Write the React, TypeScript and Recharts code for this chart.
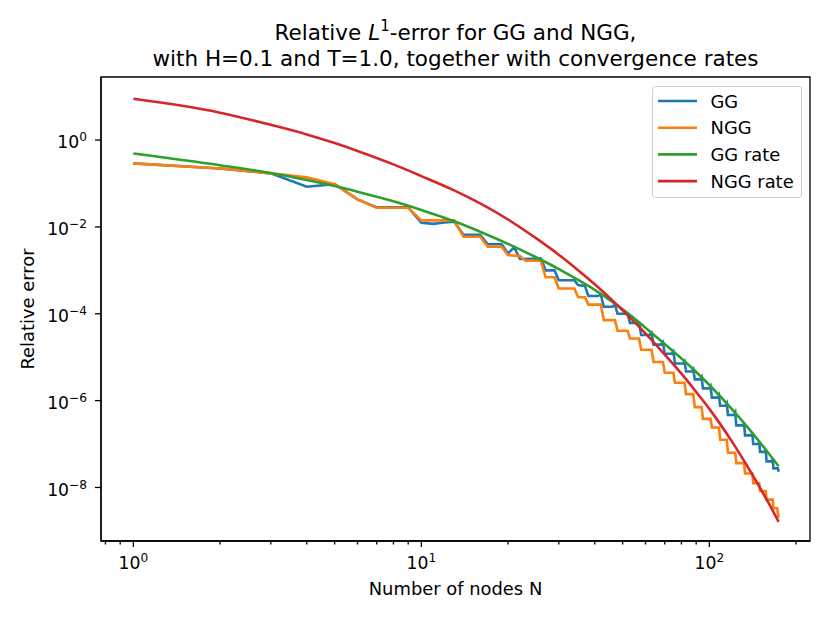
import { LineChart, Line, XAxis, YAxis, Legend, ReferenceArea } from "recharts"

const FONT = "DejaVu Sans"

// GG error: number of nodes N and relative L1-error (corners of the staircase)
const ggN = [
  1, 2, 3, 4, 5, 6, 7, 9, 10, 11, 12, 13, 14, 16, 17, 19, 20, 21, 22, 26, 27, 29, 30, 34, 35, 37,
  38, 41, 42, 43, 46, 47, 48, 52, 53, 57, 58, 62, 63, 64, 68, 69, 70, 74, 75, 76, 81, 82, 83, 87,
  88, 89, 93, 94, 95, 100, 101, 102, 107, 108, 109, 114, 115, 116, 122, 123, 124, 131, 132, 133,
  140, 141, 142, 148, 149, 150, 156, 157, 158, 165, 166, 167, 173, 174,
]
const ggErr = [
  0.29, 0.222, 0.171, 0.0839, 0.0968, 0.043, 0.0281, 0.0281, 0.01245, 0.01175, 0.0126, 0.0132,
  6.61e-3, 6.61e-3, 3.98e-3, 3.98e-3, 2.45e-3, 3.39e-3, 1.82e-3, 1.86e-3, 1.0e-3, 1.0e-3,
  5.89e-4, 5.89e-4, 4.57e-4, 4.37e-4, 2.57e-4, 2.57e-4, 2.75e-4, 1.45e-4, 1.45e-4, 1.62e-4,
  1.0e-4, 1.0e-4, 6.17e-5, 6.17e-5, 3.24e-5, 3.24e-5, 3.63e-5, 1.95e-5, 1.95e-5, 2.19e-5,
  1.2e-5, 1.2e-5, 1.35e-5, 7.16e-6, 7.16e-6, 8.04e-6, 4.68e-6, 4.68e-6, 5.25e-6, 3.09e-6,
  3.09e-6, 3.47e-6, 1.91e-6, 1.91e-6, 2.14e-6, 1.17e-6, 1.17e-6, 1.32e-6, 7.59e-7, 7.59e-7,
  8.51e-7, 4.68e-7, 4.68e-7, 5.25e-7, 2.69e-7, 2.69e-7, 3.02e-7, 1.58e-7, 1.58e-7, 1.78e-7,
  1.0e-7, 1.0e-7, 1.12e-7, 6.61e-8, 6.61e-8, 7.41e-8, 3.98e-8, 3.98e-8, 4.47e-8, 2.75e-8,
  2.75e-8, 2.29e-8,
]

// NGG error
const nggN = [
  1, 2, 3, 4, 5, 6, 7, 9, 10, 13, 14, 16, 17, 19, 20, 22, 23, 26, 27, 29, 30, 34, 35, 37, 38, 42,
  43, 47, 48, 52, 53, 57, 58, 63, 64, 69, 70, 75, 76, 82, 83, 88, 89, 94, 95, 101, 102, 108, 109,
  115, 116, 123, 124, 132, 133, 141, 142, 149, 150, 157, 158, 166, 167, 172, 174,
]
const nggErr = [
  0.29, 0.222, 0.171, 0.138, 0.0968, 0.043, 0.0275, 0.0275, 0.0141, 0.0141, 5.93e-3, 5.93e-3,
  3.48e-3, 3.48e-3, 2.24e-3, 2.14e-3, 1.66e-3, 1.66e-3, 6.92e-4, 6.92e-4, 3.83e-4, 3.83e-4,
  2.4e-4, 2.4e-4, 1.62e-4, 1.62e-4, 7.13e-5, 7.13e-5, 4.07e-5, 4.07e-5, 2.69e-5, 2.69e-5,
  1.48e-5, 1.48e-5, 7.76e-6, 7.76e-6, 4.37e-6, 4.37e-6, 2.57e-6, 2.57e-6, 1.41e-6, 1.41e-6,
  7.08e-7, 7.08e-7, 3.8e-7, 3.8e-7, 2.4e-7, 2.4e-7, 1.26e-7, 1.26e-7, 6.31e-8, 6.31e-8,
  3.63e-8, 3.63e-8, 2.09e-8, 2.09e-8, 1.26e-8, 1.26e-8, 8.32e-9, 8.32e-9, 5.25e-9, 5.25e-9,
  3.31e-9, 3.31e-9, 2.0e-9,
]

// convergence rates
const rateN = [1, 2, 3, 4, 5, 6, 8, 10, 13, 16, 20, 25, 30, 35, 40, 50, 60, 70, 80, 90, 100, 120, 140, 160, 174]
const ggRate = [
  0.49, 0.263, 0.174, 0.12, 0.0871, 0.0646, 0.0389, 0.0245, 0.0135, 7.76e-3, 4.07e-3, 2.0e-3,
  1.07e-3, 6.03e-4, 3.55e-4, 1.26e-4, 4.79e-5, 2.0e-5, 9.33e-6, 4.57e-6, 2.29e-6, 6.31e-7,
  1.91e-7, 6.31e-8, 3.09e-8,
]
const nggRate = [
  8.91, 4.27, 2.24, 1.35, 0.851, 0.562, 0.275, 0.148, 0.0692, 0.0347, 0.0148, 5.5e-3, 2.29e-3,
  1.01e-3, 4.79e-4, 1.2e-4, 3.55e-5, 1.15e-5, 4.17e-6, 1.58e-6, 6.46e-7, 1.12e-7, 2.14e-8,
  4.57e-9, 1.62e-9,
]

const xMajor = [1, 10, 100]
const xTicks = [0.8, 0.9, 1, 2, 3, 4, 5, 6, 7, 8, 9, 10, 20, 30, 40, 50, 60, 70, 80, 90, 100, 200]
const yTicks = [1e-8, 1e-6, 1e-4, 1e-2, 1]

const xDomain = [0.772, 223.6]
const yDomain = [5.85e-10, 28.3]

const toPoints = (ns: number[], vs: number[]) => ns.map((n, i) => ({ n, v: vs[i] }))

const series = [
  { name: "GG", color: "#1f77b4", data: toPoints(ggN, ggErr), curve: "linear" },
  { name: "NGG", color: "#ff7f0e", data: toPoints(nggN, nggErr), curve: "linear" },
  { name: "GG rate", color: "#2ca02c", data: toPoints(rateN, ggRate), curve: "monotone" },
  { name: "NGG rate", color: "#d62728", data: toPoints(rateN, nggRate), curve: "monotone" },
]

const expLabel = (v: number) => {
  const e = Math.round(Math.log10(v))
  return e < 0 ? "\u2212" + Math.abs(e) : String(e)
}

function XTick(props: any) {
  const { x, y, payload } = props
  const major = xMajor.includes(payload.value)
  return (
    <g>
      <line x1={x} x2={x} y1={y} y2={y + (major ? 6 : 3.5)} stroke="#000" strokeWidth={1.3} />
      {major && (
        <text x={x} y={y + 28} textAnchor="middle" fontSize={17.2} fontFamily={FONT} fill="#000">
          10<tspan dy={-7} fontSize={12.2}>{expLabel(payload.value)}</tspan>
        </text>
      )}
    </g>
  )
}

function YTick(props: any) {
  const { x, y, payload } = props
  return (
    <g>
      <line x1={x - 6} x2={x} y1={y} y2={y} stroke="#000" strokeWidth={1.3} />
      <text x={x - 14} y={y + 8.3} textAnchor="end" fontSize={17.2} fontFamily={FONT} fill="#000">
        10<tspan dy={-7} fontSize={12.2}>{expLabel(payload.value)}</tspan>
      </text>
    </g>
  )
}

const renderLegend = () => (
  <svg width={151} height={113} style={{ display: "block" }}>
    <rect x={0.5} y={0.5} width={149} height={111} rx={3} fill="#fff" fillOpacity={0.8} stroke="#cccccc" />
    {series.map((s, i) => (
      <g key={s.name}>
        <line x1={6} x2={45} y1={15 + i * 26.7} y2={15 + i * 26.7} stroke={s.color} strokeWidth={2.6} />
        <text x={58.5} y={21.5 + i * 26.7} fontSize={17.9} fontFamily={FONT} fill="#000">
          {s.name}
        </text>
      </g>
    ))}
  </svg>
)

export default function App() {
  return (
    <div style={{ position: "relative", width: 830, height: 623, fontFamily: FONT }}>
      <style>{`body { margin: 0; }`}</style>
      <LineChart width={830} height={623} margin={{ top: 77, right: 20, bottom: 0, left: 0 }}>
        <XAxis
          dataKey="n"
          type="number"
          scale="log"
          domain={xDomain}
          allowDataOverflow
          ticks={xTicks}
          interval={0}
          tick={<XTick />}
          tickLine={false}
          tickSize={0}
          tickMargin={0}
          height={82}
          axisLine={{ stroke: "#000", strokeWidth: 1.3 }}
        />
        <YAxis
          type="number"
          scale="log"
          domain={yDomain}
          allowDataOverflow
          ticks={yTicks}
          interval={0}
          tick={<YTick />}
          tickLine={false}
          tickSize={0}
          tickMargin={0}
          width={101}
          axisLine={{ stroke: "#000", strokeWidth: 1.3 }}
        />
        <ReferenceArea
          x1={xDomain[0]}
          x2={xDomain[1]}
          y1={yDomain[0]}
          y2={yDomain[1]}
          fill="none"
          stroke="#000"
          strokeWidth={1.3}
          ifOverflow="visible"
        />
        {series.map((s) => (
          <Line
            key={s.name}
            name={s.name}
            data={s.data}
            dataKey="v"
            type={s.curve as any}
            stroke={s.color}
            strokeWidth={2.6}
            dot={false}
            isAnimationActive={false}
          />
        ))}
        <Legend
          layout="vertical"
          align="center"
          verticalAlign="middle"
          content={renderLegend}
          wrapperStyle={{ left: 652, top: 86, width: 151, height: 113 }}
        />
      </LineChart>
      <svg
        width={830}
        height={623}
        style={{ position: "absolute", left: 0, top: 0, pointerEvents: "none" }}
        fontFamily={FONT}
      >
        <text x={455.5} y={40} textAnchor="middle" fontSize={21.5}>
          Relative <tspan fontStyle="italic">L</tspan>
          <tspan dy={-9} fontSize={15}>1</tspan>
          <tspan dy={9}>-error for GG and NGG,</tspan>
        </text>
        <text x={455.5} y={65.5} textAnchor="middle" fontSize={21.5}>
          with H=0.1 and T=1.0, together with convergence rates
        </text>
        <text x={455.5} y={594.5} textAnchor="middle" fontSize={17.9}>
          Number of nodes N
        </text>
        <text transform="translate(33.5,309) rotate(-90)" textAnchor="middle" fontSize={17.9}>
          Relative error
        </text>
      </svg>
    </div>
  )
}
